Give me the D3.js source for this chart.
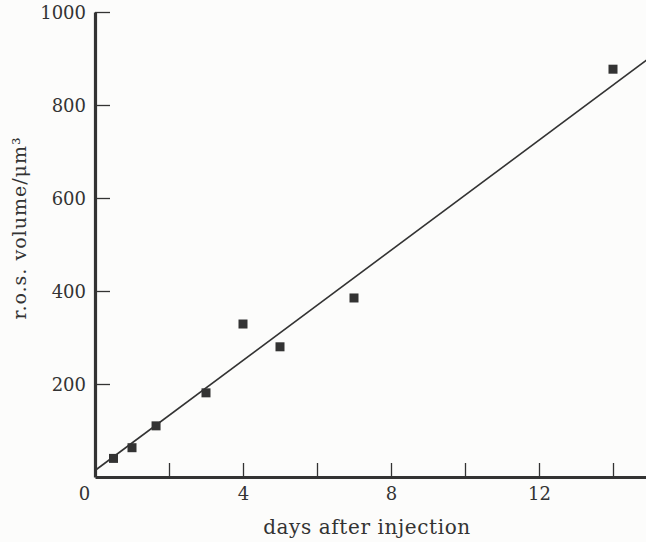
<!DOCTYPE html>
<html>
<head>
<meta charset="utf-8">
<script src="https://cdn.jsdelivr.net/npm/d3@7"></script>
<style>
  body { margin: 0; background: #fcfcfb; }
  svg { display: block; }
  text { font-family: "DejaVu Serif", serif; fill: #333; }
</style>
</head>
<body>
<svg id="chart" width="646" height="542"></svg>
<script>
// days after injection vs r.o.s. volume
var days = [0.5, 1, 1.65, 3, 4, 5, 7, 14];
var volume = [40, 63, 110, 181, 329, 280, 385, 877];
var fitIntercept = 14;   // regression line
var fitSlope = 59.2;
var xTicks = [0, 2, 4, 6, 8, 10, 12, 14];
var xLabels = [0, 4, 8, 12];
var yTicks = [200, 400, 600, 800, 1000];

var svg = d3.select('#chart');
var ink = '#333';

var x = d3.scaleLinear().domain([0, 15]).range([95, 650]);
var y = d3.scaleLinear().domain([0, 1000]).range([477, 12]);

// x axis, ticks pointing up into the plot
var xAxis = svg.append('g')
	.attr('transform', 'translate(0,' + y(0) + ')')
	.call(d3.axisBottom(x).tickValues(xTicks).tickSize(-14).tickSizeOuter(0)
		.tickPadding(10)
		.tickFormat(function(d) { return xLabels.indexOf(d) >= 0 ? d : ''; }));
xAxis.select('.domain').attr('stroke', ink).attr('stroke-width', 3.2);
xAxis.selectAll('.tick line').attr('stroke', ink).attr('stroke-width', 1.3);
xAxis.selectAll('.tick text').attr('font-size', 18).attr('font-family', '"DejaVu Serif", serif')
	.attr('fill', ink)
	.attr('dx', function(d) { return d === 0 ? -11 : 0; });

// y axis, ticks pointing right
var yAxis = svg.append('g')
	.attr('transform', 'translate(' + x(0) + ',0)')
	.call(d3.axisLeft(y).tickValues(yTicks).tickSize(-15).tickSizeOuter(0).tickPadding(9)
		.tickFormat(d3.format('d')));
yAxis.select('.domain').attr('stroke', ink).attr('stroke-width', 3.2);
yAxis.selectAll('.tick line').attr('stroke', ink).attr('stroke-width', 1.3);
yAxis.selectAll('.tick text').attr('font-size', 18).attr('font-family', '"DejaVu Serif", serif')
	.attr('fill', ink).attr('x', -9).attr('dy', '0.35em');

// fitted line
svg.append('line')
	.attr('x1', x(0)).attr('y1', y(fitIntercept))
	.attr('x2', x(15)).attr('y2', y(fitIntercept + fitSlope * 15))
	.attr('stroke', ink).attr('stroke-width', 1.6);

// data points
var sq = 9;
svg.append('g').selectAll('rect')
	.data(days.map(function(d, i) { return {d: d, v: volume[i]}; }))
	.enter().append('rect')
	.attr('x', function(p) { return x(p.d) - sq / 2; })
	.attr('y', function(p) { return y(p.v) - sq / 2; })
	.attr('width', sq).attr('height', sq)
	.attr('fill', ink);

// axis titles
svg.append('text')
	.attr('x', 367).attr('y', 534)
	.attr('text-anchor', 'middle')
	.attr('font-size', 20)
	.attr('letter-spacing', 0.6)
	.text('days after injection');

svg.append('text')
	.attr('transform', 'translate(26,228) rotate(-90)')
	.attr('text-anchor', 'middle')
	.attr('font-size', 19)
	.attr('letter-spacing', 1)
	.text('r.o.s. volume/\u03bcm\u00b3');
</script>
</body>
</html>
